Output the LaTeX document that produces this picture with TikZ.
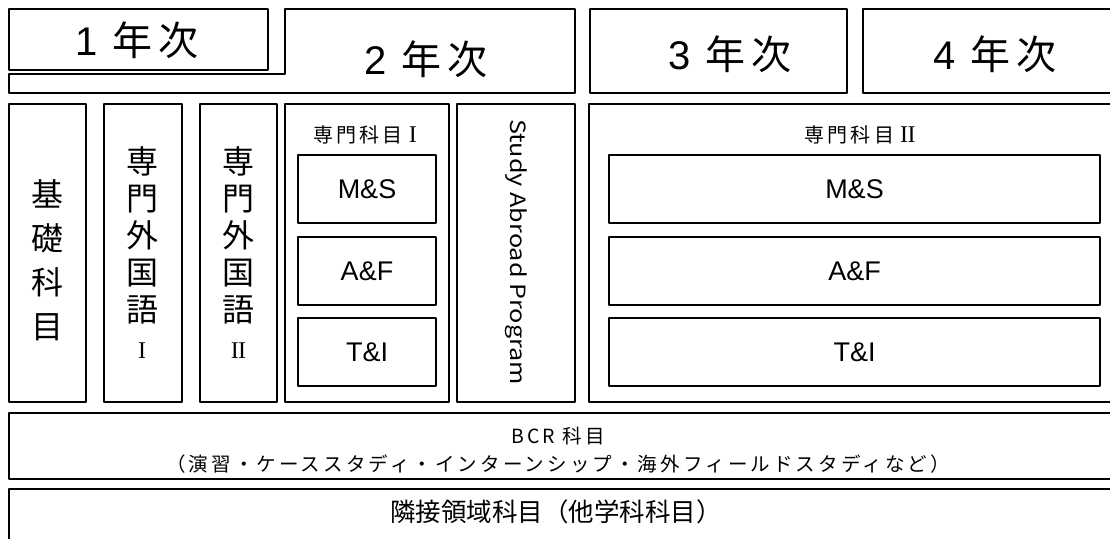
\documentclass[tikz,border=0pt]{standalone}
\usepackage{fontspec}
\setmainfont{Liberation Sans}
\newfontfamily\jp{Noto Sans CJK JP}
\newfontfamily\jpsp[LetterSpace=16]{Noto Sans CJK JP}
\newfontfamily\rom{Liberation Serif}
\newcommand{\fsz}[1]{\fontsize{#1}{#1}\selectfont}
\newcommand{\romI}{{\rom I}}
\newcommand{\romII}{{\rom I\kern-0.6pt I}}

\begin{document}
\begin{tikzpicture}[x=1pt,y=-1pt,line cap=round,line join=round,
  box/.style 2 args={draw,line width=2.8pt,inner sep=0pt,minimum width=#1pt,minimum height=#2pt},
  yeartext/.style={font=\jp\fsz{40},inner sep=0pt},
  vtext/.style={font=\jp\fontsize{32}{37}\selectfont,align=center,inner sep=0pt},
  course/.style={font=\fsz{27}},
  headlabel/.style={font=\jpsp\fsz{20},inner sep=0pt}]

\path[use as bounding box] (0,0) rectangle (1110,538);
\clip (0,0) rectangle (1110,538);

% year headers
\node[box={259}{61}] (nen1) at (138.5,39.5) {};
\draw[line width=2.8pt] (285,9) -- (575,9) -- (575,93) -- (9,93) -- (9,74) -- (285,74) -- cycle;
\node[box={257}{84}] (nen3) at (718.5,51) {};
\node[box={267}{84}] (nen4) at (996.5,51) {};

\node[yeartext] (nen1t) at (137,40) {{\rmfamily 1}\hspace{14pt}年\hspace{6pt}次};
\node[yeartext] (nen2t) at (426,59) {{\rmfamily 2}\hspace{14pt}年\hspace{6pt}次};
\node[yeartext] (nen3t) at (730,54) {{\rmfamily 3}\hspace{14pt}年\hspace{6pt}次};
\node[yeartext] (nen4t) at (995,54) {{\rmfamily 4}\hspace{14pt}年\hspace{6pt}次};

% columns
\node[box={77}{298}] (kiso) at (47.5,253) {};
\node[box={78}{298}] (gaiI) at (143,253) {};
\node[box={77}{298}] (gaiII) at (238.5,253) {};
\node[box={164}{298}] (senI) at (367,253) {};
\node[box={118}{298}] (sap) at (516,253) {};
\node[box={541}{298}] (senII) at (859.5,253) {};

\node[vtext,font=\jp\fontsize{32}{44}\selectfont] (kisot) at (47.5,260) {基\\礎\\科\\目};
\node[vtext] (gaiIt) at (142,253) {専\\門\\外\\国\\語\\{\fsz{24}\romI}};
\node[vtext] (gaiIIt) at (238.5,253) {専\\門\\外\\国\\語\\{\fsz{24}\romII}};
\node[rotate=-90,font=\jp\fsz{21}] (sapt) at (516,252) {\scalebox{1.2}[1]{Study Abroad Program}};

\node[headlabel] (senIt) at (365,135) {専門科目\hspace{6pt}{\fsz{24}\romI}};
\node[headlabel] (senIIt) at (860,135) {専門科目\hspace{6pt}{\fsz{24}\romII}};

\node[box={138}{68},course] (msI) at (367,189) {M\&S};
\node[box={138}{68},course] (afI) at (367,271) {A\&F};
\node[box={138}{68},course] (tiI) at (367,352) {T\&I};

\node[box={491}{68},course] (msII) at (854.5,189) {M\&S};
\node[box={491}{68},course] (afII) at (854.5,271) {A\&F};
\node[box={491}{68},course] (tiII) at (854.5,352) {T\&I};

% bottom rows
\node[box={1121}{66}] (bcr) at (569.5,446) {};
\node[font=\jpsp\fontsize{19.5}{28}\selectfont,align=center,inner sep=0pt] (bcrt) at (558,450)
  {BCR 科目\\（演習・ケーススタディ・インターンシップ・海外フィールドスタディなど）};
\node[box={1121}{71}] (rin) at (569.5,524.5) {};
\node[font=\jp\fsz{25.5},inner sep=0pt] (rint) at (556,512) {隣接領域科目（他学科科目）};
\end{tikzpicture}
\end{document}
